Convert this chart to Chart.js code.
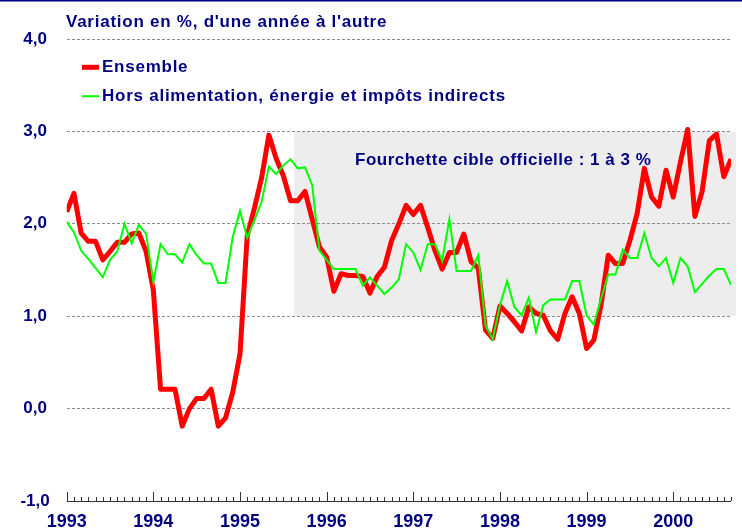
<!DOCTYPE html>
<html>
<head>
<meta charset="utf-8">
<script src="https://cdn.jsdelivr.net/npm/chart.js@4.4.1/dist/chart.umd.min.js"></script>
<style>
  html, body { margin: 0; padding: 0; background: #fff; }
  #wrap { position: relative; width: 742px; height: 529px; }
</style>
</head>
<body>
<div id="wrap"><canvas id="c"></canvas></div>
<script>
// Inflation en glissement annuel, mensuel de janv. 1993 à sept. 2000.
// Index 0 = janvier 1993.

const YEARS = ['1993', '1994', '1995', '1996', '1997', '1998', '1999', '2000'];
const Y_TICKS = [-1, 0, 1, 2, 3, 4];

const ENSEMBLE = [
  2.13, 2.33, 1.90, 1.81, 1.81, 1.61, 1.70, 1.80, 1.80, 1.89, 1.90, 1.70,   // 1993
  1.28, 0.21, 0.21, 0.21, -0.19, 0.00, 0.11, 0.11, 0.21, -0.19, -0.10, 0.18, // 1994
  0.59, 1.87, 2.17, 2.50, 2.96, 2.71, 2.52, 2.25, 2.25, 2.35, 2.05, 1.75,   // 1995
  1.64, 1.27, 1.46, 1.44, 1.44, 1.43, 1.25, 1.43, 1.53, 1.82, 2.00, 2.20,   // 1996
  2.10, 2.20, 1.96, 1.71, 1.51, 1.69, 1.69, 1.89, 1.59, 1.52, 0.85, 0.76,   // 1997
  1.11, 1.03, 0.94, 0.84, 1.10, 1.03, 1.01, 0.84, 0.75, 1.03, 1.21, 1.03,   // 1998
  0.65, 0.74, 1.12, 1.66, 1.57, 1.57, 1.82, 2.11, 2.60, 2.29, 2.19, 2.58,   // 1999
  2.29, 2.67, 3.02, 2.08, 2.35, 2.90, 2.97, 2.51, 2.70                      // 2000
];

const HORS_ALIM = [
  2.02, 1.91, 1.71, 1.62, 1.52, 1.42, 1.61, 1.70, 2.00, 1.79, 1.99, 1.89,   // 1993
  1.37, 1.78, 1.67, 1.67, 1.58, 1.78, 1.66, 1.57, 1.57, 1.36, 1.36, 1.86,   // 1994
  2.14, 1.85, 2.04, 2.24, 2.62, 2.54, 2.63, 2.70, 2.60, 2.61, 2.42, 1.71,   // 1995
  1.61, 1.51, 1.51, 1.51, 1.51, 1.33, 1.42, 1.33, 1.24, 1.31, 1.40, 1.78,   // 1996
  1.69, 1.50, 1.78, 1.78, 1.60, 2.05, 1.49, 1.49, 1.49, 1.66, 0.90, 0.75,   // 1997
  1.12, 1.38, 1.10, 1.01, 1.20, 0.83, 1.12, 1.18, 1.18, 1.18, 1.38, 1.38,   // 1998
  1.01, 0.91, 1.19, 1.45, 1.45, 1.72, 1.63, 1.63, 1.90, 1.63, 1.54, 1.63,   // 1999
  1.36, 1.63, 1.54, 1.26, 1.35, 1.44, 1.51, 1.51, 1.34                      // 2000
];

// fourchette cible (en mois depuis janv. 1993, en %)
const BAND_FROM = 31.5;
const BAND_TO = 92.7;
const BAND_LOW = 1;
const BAND_HIGH = 3;

const NAVY = '#000080';
const FONT = "'Liberation Sans', Arial, sans-serif";

const pts = arr => arr.map((v, i) => ({ x: i, y: v }));

const decor = {
  id: 'decor',
  beforeDraw(chart) {
    const { ctx, scales: { x, y } } = chart;
    const x0 = x.getPixelForValue(BAND_FROM), x1 = x.getPixelForValue(BAND_TO);
    const y0 = y.getPixelForValue(BAND_HIGH), y1 = y.getPixelForValue(BAND_LOW);
    ctx.save();
    ctx.fillStyle = '#ededed';
    ctx.fillRect(x0, y0, x1 - x0, y1 - y0);
    ctx.restore();
  },
  afterDraw(chart) {
    const { ctx, chartArea: a, scales: { x } } = chart;
    ctx.save();
    // filet du haut
    ctx.fillStyle = NAVY;
    ctx.fillRect(0, 0, chart.width, 1.5);

    // axe du bas + graduations mensuelles (vers le haut)
    ctx.strokeStyle = '#333';
    ctx.lineWidth = 1;
    ctx.beginPath();
    ctx.moveTo(a.left, a.bottom + 0.5);
    ctx.lineTo(a.right, a.bottom + 0.5);
    for (let m = 0; m < ENSEMBLE.length; m++) {
      const px = Math.round(x.getPixelForValue(m)) + 0.5;
      const h = m % 12 === 0 ? 9 : 4;
      ctx.moveTo(px, a.bottom);
      ctx.lineTo(px, a.bottom - h);
    }
    ctx.stroke();

    // textes
    ctx.fillStyle = NAVY;
    ctx.font = 'bold 17px ' + FONT;
    ctx.letterSpacing = '0.75px';
    ctx.textBaseline = 'alphabetic';
    ctx.textAlign = 'left';
    ctx.fillText("Variation en %, d'une année à l'autre", 66, 26.5);
    ctx.fillText('Ensemble', 102, 72);
    ctx.fillText('Hors alimentation, énergie et impôts indirects', 102, 101);
    ctx.letterSpacing = '0.5px';
    ctx.fillText('Fourchette cible officielle : 1 à 3 %', 355, 164.5);
    ctx.letterSpacing = '0px';

    // légende
    ctx.lineCap = 'butt';
    ctx.strokeStyle = '#ff0000';
    ctx.lineWidth = 5;
    ctx.beginPath(); ctx.moveTo(82, 67.3); ctx.lineTo(99, 67.3); ctx.stroke();
    ctx.strokeStyle = '#00ff00';
    ctx.lineWidth = 2;
    ctx.beginPath(); ctx.moveTo(82, 96.2); ctx.lineTo(99, 96.2); ctx.stroke();
    ctx.restore();
  }
};

new Chart(document.getElementById('c'), {
  type: 'line',
  data: {
    datasets: [
      {
        label: 'Hors alimentation, énergie et impôts indirects',
        data: pts(HORS_ALIM),
        borderColor: '#00ff00',
        borderWidth: 2,
        pointRadius: 0,
        tension: 0,
        order: 1,
      },
      {
        label: 'Ensemble',
        data: pts(ENSEMBLE),
        borderColor: '#ff0000',
        borderWidth: 5,
        borderJoinStyle: 'round',
        pointRadius: 0,
        tension: 0,
        order: 2,
      },
    ],
  },
  options: {
    responsive: true,
    maintainAspectRatio: false,
    animation: false,
    devicePixelRatio: 1,
    layout: { padding: { top: 39, right: 11, left: 0, bottom: 0 } },
    plugins: { legend: { display: false }, tooltip: { enabled: false } },
    scales: {
      x: {
        type: 'linear',
        min: 0,
        max: ENSEMBLE.length - 1,
        afterBuildTicks: s => { s.ticks = YEARS.map((_, i) => ({ value: i * 12 })); },
        afterFit: s => { s.height = 28; },
        ticks: {
          color: NAVY,
          font: { family: FONT, size: 18, weight: 'bold' },
          padding: 2,
          maxRotation: 0,
          autoSkip: false,
          callback: v => YEARS[v / 12],
        },
        grid: { display: false },
        border: { display: false },
      },
      y: {
        min: -1,
        max: 4,
        afterBuildTicks: s => { s.ticks = Y_TICKS.map(v => ({ value: v })); },
        afterFit: s => { s.width = 66.7; },
        ticks: {
          color: NAVY,
          font: { family: FONT, size: 17, weight: 'bold' },
          crossAlign: 'center',
          padding: 17,
          callback: v => v.toFixed(1).replace('.', ','),
        },
        grid: {
          drawTicks: false,
          color: c => (c.tick && c.tick.value === -1 ? 'rgba(0,0,0,0)' : '#8c8c8c'),
          lineWidth: 1,
        },
        border: { display: false, dash: [3, 2] },
      },
    },
  },
  plugins: [decor],
});
</script>
</body>
</html>
